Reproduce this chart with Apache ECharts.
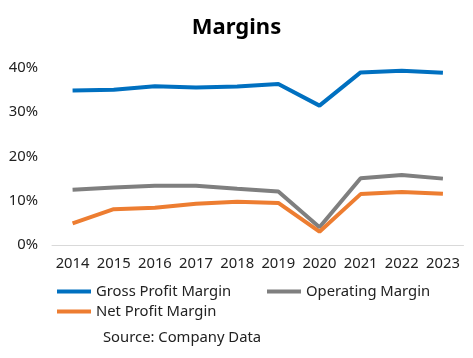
<!DOCTYPE html>
<html>
<head>
<meta charset="utf-8">
<script src="https://cdn.jsdelivr.net/npm/echarts@6/dist/echarts.min.js"></script>
<style>html,body{margin:0;padding:0;background:#fff}#c{width:473px;height:358px}</style>
</head>
<body>
<div id="c"></div>
<script>
const years = ['2014','2015','2016','2017','2018','2019','2020','2021','2022','2023'];
const grossProfitMargin = [34.9, 35.1, 35.9, 35.6, 35.8, 36.4, 31.5, 39.0, 39.4, 38.9];
const operatingMargin = [12.5, 13.0, 13.4, 13.4, 12.7, 12.1, 4.0, 15.1, 15.8, 15.0];
const netProfitMargin = [4.9, 8.1, 8.4, 9.3, 9.8, 9.5, 3.0, 11.5, 12.0, 11.6];

const font = 'Noto Sans';
const fs = 14.8;
const chart = echarts.init(document.getElementById('c'));
const mk = (name, data, color) => ({
  name, type: 'line', data, symbol: 'none',
  lineStyle: {width: 4, color}, itemStyle: {color}
});
const legendBase = {icon: 'rect', itemWidth: 34, itemHeight: 4, padding: 0, itemGap: 0,
  textStyle: {fontFamily: font, fontSize: fs, color: '#222'}};
chart.setOption({
  animation: false,
  title: {text: 'Margins', left: 'center', top: 12,
    textStyle: {fontFamily: font, fontSize: 22, fontWeight: 'bold', color: '#000'}},
  grid: {left: 52, right: 9.5, top: 68, bottom: 113},
  xAxis: {type: 'category', data: years, boundaryGap: true,
    axisLine: {lineStyle: {color: '#d9d9d9', width: 1}},
    axisTick: {show: false},
    axisLabel: {fontFamily: font, fontSize: fs, color: '#222', margin: 11, interval: 0}},
  yAxis: {type: 'value', min: 0, max: 40, interval: 10,
    splitLine: {show: false}, axisLine: {show: false}, axisTick: {show: false},
    axisLabel: {fontFamily: font, fontSize: fs, color: '#222', margin: 14,
      formatter: v => v + '%'}},
  legend: [
    Object.assign({data: ['Gross Profit Margin'], left: 57, top: 284}, legendBase),
    Object.assign({data: ['Operating Margin'], left: 267, top: 284}, legendBase),
    Object.assign({data: ['Net Profit Margin'], left: 57, top: 304}, legendBase)
  ],
  graphic: [{type: 'text', left: 103, top: 330,
    style: {text: 'Source: Company Data', font: fs + 'px "Noto Sans"', fill: '#222'}}],
  series: [
    mk('Gross Profit Margin', grossProfitMargin, '#0070C0'),
    mk('Operating Margin', operatingMargin, '#7F7F7F'),
    mk('Net Profit Margin', netProfitMargin, '#ED7D31')
  ]
});
</script>
</body>
</html>
